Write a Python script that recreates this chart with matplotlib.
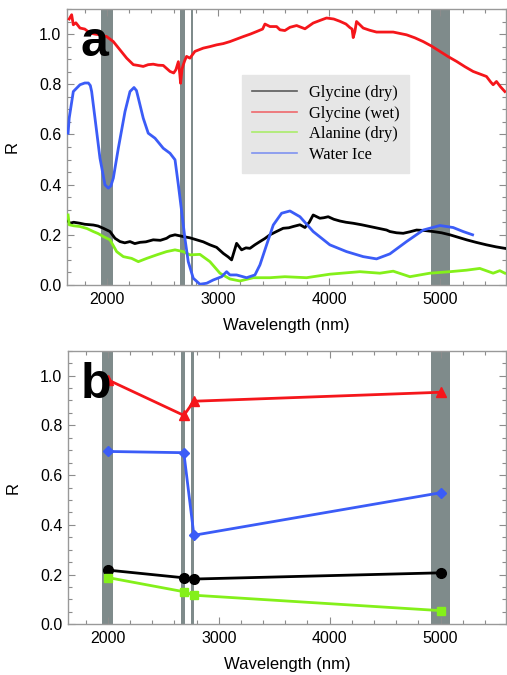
import matplotlib.pyplot as plt
from matplotlib.ticker import MultipleLocator

# ---- data ----
# top panel (a): spectra
gly_dry_x = [1650, 1667, 1700, 1757, 1800, 1877, 1920, 1967, 2027, 2072, 2117, 2160, 2207, 2250, 2297,
             2350, 2416, 2480, 2536, 2567, 2612, 2686, 2746, 2806, 2866, 2926, 2986, 3046, 3090, 3121,
             3166, 3211, 3250, 3286, 3330, 3376, 3420, 3466, 3520, 3585, 3636, 3675, 3736, 3781, 3820,
             3855, 3915, 3950, 3990, 4040, 4095, 4150, 4215, 4290, 4365, 4440, 4515, 4545, 4605, 4665,
             4725, 4785, 4860, 4935, 5010, 5085, 5160, 5235, 5320, 5414, 5500, 5579]
gly_dry_y = [0.255, 0.246, 0.25, 0.246, 0.242, 0.239, 0.235, 0.226, 0.213, 0.186, 0.173, 0.168, 0.173,
             0.165, 0.17, 0.172, 0.18, 0.178, 0.186, 0.195, 0.2, 0.193, 0.188, 0.18, 0.172, 0.16, 0.15,
             0.126, 0.112, 0.1, 0.166, 0.14, 0.148, 0.146, 0.16, 0.173, 0.185, 0.2, 0.212, 0.226, 0.228,
             0.233, 0.24, 0.229, 0.25, 0.279, 0.266, 0.268, 0.272, 0.262, 0.255, 0.25, 0.246, 0.24, 0.233,
             0.226, 0.219, 0.213, 0.208, 0.206, 0.212, 0.219, 0.217, 0.213, 0.208, 0.2, 0.19, 0.18, 0.17,
             0.16, 0.152, 0.146]

gly_wet_x = [1660, 1682, 1697, 1720, 1757, 1800, 1847, 1890, 1937, 1997, 2057, 2117, 2177, 2237, 2280,
             2326, 2370, 2416, 2460, 2506, 2567, 2600, 2620, 2642, 2655, 2662, 2675, 2686, 2700, 2716,
             2746, 2791, 2866, 2926, 2986, 3046, 3106, 3166, 3226, 3290, 3346, 3400, 3421, 3466, 3526,
             3556, 3600, 3646, 3706, 3781, 3855, 3920, 3975, 4040, 4095, 4150, 4185, 4205, 4215, 4230,
             4245, 4305, 4365, 4425, 4500, 4575, 4640, 4695, 4770, 4845, 4920, 4995, 5070, 5145, 5220,
             5294, 5360, 5414, 5450, 5474, 5504, 5540, 5579]
gly_wet_y = [1.06, 1.077, 1.037, 1.045, 1.024, 1.02, 1.004, 1.0, 0.997, 0.99, 0.97, 0.937, 0.904, 0.878,
             0.875, 0.871, 0.878, 0.88, 0.876, 0.875, 0.851, 0.845, 0.858, 0.89, 0.84, 0.804, 0.86, 0.877,
             0.895, 0.911, 0.904, 0.931, 0.944, 0.95, 0.957, 0.962, 0.97, 0.98, 0.99, 1.0, 1.01, 1.02,
             1.04, 1.03, 1.03, 1.017, 1.014, 1.027, 1.034, 1.021, 1.044, 1.055, 1.064, 1.06, 1.051, 1.04,
             1.026, 1.02, 0.986, 1.01, 1.05, 1.024, 1.015, 1.008, 1.008, 1.008, 1.002, 0.997, 0.985, 0.97,
             0.952, 0.931, 0.91, 0.891, 0.87, 0.851, 0.84, 0.831, 0.81, 0.798, 0.811, 0.79, 0.771]

ala_dry_x = [1650, 1660, 1700, 1757, 1820, 1877, 1920, 1967, 2027, 2087, 2147, 2222, 2282, 2357, 2447,
             2536, 2612, 2686, 2746, 2836, 2926, 3016, 3106, 3196, 3316, 3466, 3600, 3795, 4005, 4275,
             4455, 4575, 4725, 4905, 5085, 5235, 5354, 5474, 5534, 5579]
ala_dry_y = [0.279, 0.24, 0.236, 0.233, 0.225, 0.213, 0.205, 0.193, 0.18, 0.133, 0.113, 0.106, 0.093,
             0.106, 0.12, 0.133, 0.14, 0.133, 0.12, 0.122, 0.093, 0.047, 0.024, 0.016, 0.029, 0.029,
             0.033, 0.029, 0.043, 0.053, 0.047, 0.055, 0.033, 0.047, 0.053, 0.059, 0.066, 0.047, 0.057,
             0.047]

ice_x = [1650, 1660, 1697, 1757, 1800, 1832, 1850, 1862, 1892, 1937, 1982, 2012, 2035, 2057, 2102, 2162,
         2207, 2243, 2265, 2282, 2326, 2371, 2432, 2506, 2567, 2612, 2642, 2672, 2701, 2731, 2776, 2836,
         2897, 2956, 3031, 3076, 3106, 3166, 3256, 3331, 3376, 3436, 3496, 3571, 3646, 3736, 3855, 4005,
         4155, 4305, 4425, 4545, 4695, 4845, 4995, 5114, 5204, 5289]
ice_y = [0.605, 0.665, 0.771, 0.798, 0.805, 0.805, 0.795, 0.771, 0.665, 0.505, 0.399, 0.386, 0.395,
         0.426, 0.545, 0.691, 0.771, 0.787, 0.775, 0.745, 0.665, 0.605, 0.585, 0.545, 0.525, 0.499, 0.399,
         0.292, 0.186, 0.093, 0.027, 0.003, 0.007, 0.02, 0.033, 0.053, 0.04, 0.04, 0.029, 0.04, 0.08,
         0.16, 0.239, 0.286, 0.295, 0.272, 0.213, 0.16, 0.133, 0.113, 0.104, 0.124, 0.173, 0.219, 0.237,
         0.229, 0.213, 0.2]

# bottom panel (b): band values
band_x = [2000, 2685, 2776, 5000]
b_gly_dry = [0.218, 0.187, 0.182, 0.207]
b_gly_wet = [0.983, 0.84, 0.897, 0.933]
b_ala_dry = [0.188, 0.131, 0.117, 0.055]
b_ice = [0.695, 0.69, 0.358, 0.529]

bands = [(1950, 2050), (2660, 2700), (2753, 2775), (4915, 5085)]

c_black, c_red, c_green, c_blue = 'black', '#f5161b', '#84f01a', '#3b5cf7'
c_band = '#7f8b8b'

police = 12
fig = plt.figure(figsize=(5.07, 6.75), dpi=100)


def style(ax):
    ax.set_xlim(1640, 5590)
    ax.set_ylim(0, 1.1)
    for b in bands:
        ax.axvspan(b[0], b[1], color=c_band, lw=0, zorder=1)
    ax.xaxis.set_major_locator(MultipleLocator(1000))
    ax.xaxis.set_minor_locator(MultipleLocator(200))
    ax.yaxis.set_major_locator(MultipleLocator(0.2))
    ax.yaxis.set_minor_locator(MultipleLocator(0.05))
    ax.tick_params(which='both', direction='in', top=True, right=True, color='#8c8c8c',
                   labelsize=11.5, width=0.8)
    ax.tick_params(which='major', length=5)
    ax.tick_params(which='minor', length=3)
    ax.tick_params(axis='x', pad=5)
    ax.tick_params(axis='y', pad=4)
    ax.set_yticks([0, 0.2, 0.4, 0.6, 0.8, 1.0])
    ax.set_yticklabels(['0.0', '0.2', '0.4', '0.6', '0.8', '1.0'])
    for s in ax.spines.values():
        s.set_color('#999999')
        s.set_linewidth(1)
    ax.set_xlabel('Wavelength (nm)', fontsize=police, labelpad=8)
    ax.set_ylabel('R', fontsize=police)
    ax.yaxis.set_label_coords(-0.108, 0.5)


plt.rcParams['font.family'] = ['Liberation Sans', 'DejaVu Sans']

ax1 = fig.add_axes([0.1321, 0.5778, 0.866, 0.4089])
style(ax1)
lw = 2.0
ax1.plot(gly_dry_x, gly_dry_y, color=c_black, lw=lw, zorder=3)
ax1.plot(gly_wet_x, gly_wet_y, color=c_red, lw=lw, zorder=3)
ax1.plot(ala_dry_x, ala_dry_y, color=c_green, lw=lw, zorder=3)
ax1.plot(ice_x, ice_y, color=c_blue, lw=lw, zorder=3)
ax1.text(0.03, 0.83, 'a', transform=ax1.transAxes, fontsize=36, fontweight='bold', zorder=5)

# legend with light handles
hs = [plt.Line2D([], [], color=c, lw=1.2, alpha=0.6) for c in (c_black, c_red, c_green, c_blue)]
leg = ax1.legend(hs, ['Glycine (dry)', 'Glycine (wet)', 'Alanine (dry)', 'Water Ice'],
                 loc='upper left', bbox_to_anchor=(0.398, 0.76), frameon=True, fancybox=False,
                 prop={'family': 'Liberation Serif', 'size': 11.8}, handlelength=2.8,
                 handletextpad=0.7, labelspacing=0.28, borderpad=0.6, borderaxespad=0)
leg.get_frame().set_facecolor('#e6e6e6')
leg.get_frame().set_edgecolor('#e6e6e6')
leg.get_frame().set_alpha(1)

ax2 = fig.add_axes([0.134, 0.0751, 0.864, 0.4053])
style(ax2)
ms = 6
ax2.plot(band_x, b_gly_wet, color=c_red, lw=lw, marker='^', ms=ms + 1, zorder=3)
ax2.plot(band_x, b_ice, color=c_blue, lw=lw, marker='D', ms=ms - 0.5, zorder=3)
ax2.plot(band_x, b_gly_dry, color=c_black, lw=lw, marker='o', ms=ms + 1, zorder=3)
ax2.plot(band_x, b_ala_dry, color=c_green, lw=lw, marker='s', ms=ms - 0.5, zorder=3)
ax2.text(0.03, 0.827, 'b', transform=ax2.transAxes, fontsize=36, fontweight='bold', zorder=5)

fig.savefig('out.png', dpi=100)
